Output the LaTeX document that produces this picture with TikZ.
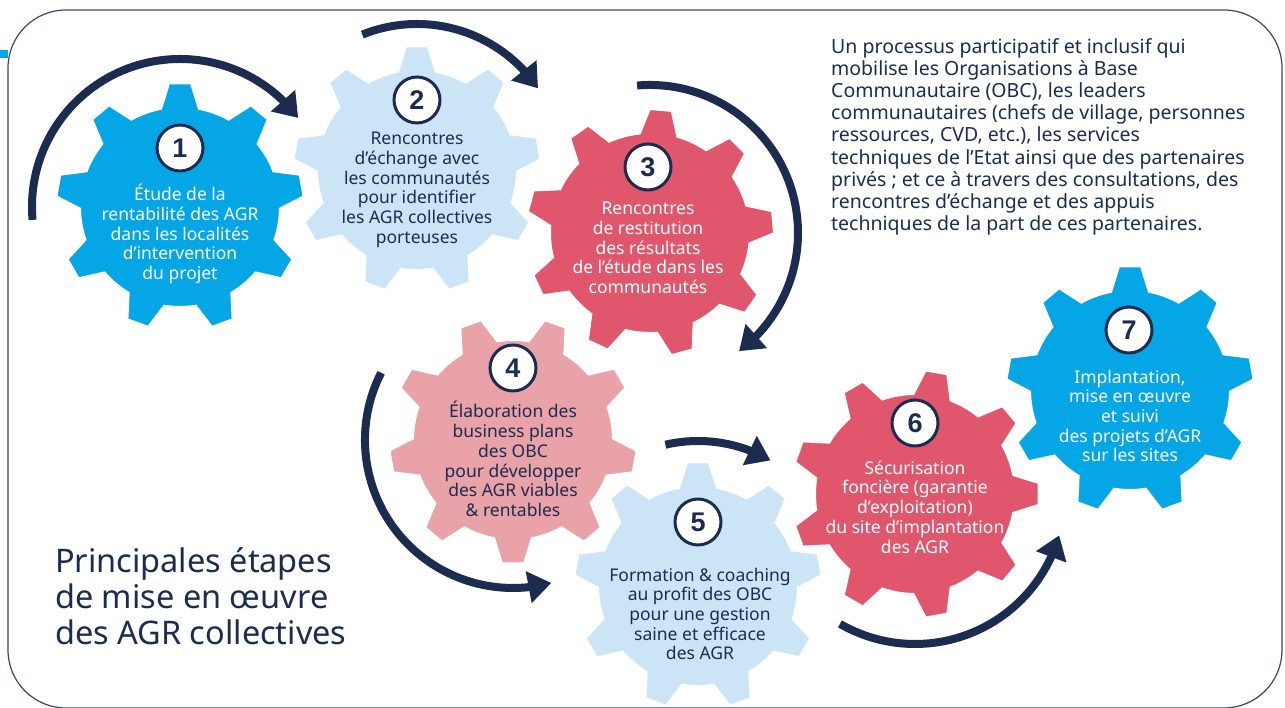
\documentclass[tikz,border=0pt]{standalone}
\usepackage{fontspec}
\setmainfont{Noto Sans}
\newfontfamily\numfont{Liberation Sans}
\usetikzlibrary{arrows.meta,bending}
\definecolor{navy}{HTML}{1C2B50}
\definecolor{bblue}{HTML}{05A6E5}
\definecolor{lblue}{HTML}{CCE5F6}
\definecolor{cred}{HTML}{E0566C}
\definecolor{cpink}{HTML}{E9A2A7}
\definecolor{bordercol}{HTML}{3A4766}
\newcommand\gearshape[3]{% center, rotation, colour
  \filldraw[fill=#3, draw=white, line width=2pt, shift={(#1)}]
    (#2-10.9:100) \foreach \k in {0,...,8}{
      -- (#2+40*\k-5.1:124) -- (#2+40*\k+5.1:124) -- (#2+40*\k+10.9:100)
      arc[start angle=#2+40*\k+10.9, end angle=#2+40*\k+29.1, radius=100]
    } -- cycle;
}
\begin{document}
\begin{tikzpicture}[x=1pt,y=1pt,
  txt/.style={align=center, inner sep=0pt, font=\fontsize{17.5}{19.7}\selectfont},
  num/.style={circle, draw=navy, line width=3pt, fill=white, minimum size=46pt, inner sep=0pt,
    text=navy, font=\numfont\fontsize{27}{27}\selectfont\bfseries},
  arr/.style={draw=navy, line width=8pt, -{Triangle[length=23pt,width=31pt]}}]
\useasboundingbox (0,0) rectangle (1285,708);
\fill[white] (0,0) rectangle (1285,708);
\draw[bordercol, line width=1.2pt, rounded corners=58pt] (8,0) rectangle (1282,698);
\fill[bblue] (0,650) rectangle (8,658);

\coordinate (c1) at (180,501);
\coordinate (c2) at (417,538);
\coordinate (c3) at (650,475);
\coordinate (c4) at (513,268);
\coordinate (c5) at (698,122);
\coordinate (c6) at (915,214);
\coordinate (c7) at (1130,318);

\gearshape{c1}{10}{bblue}
\gearshape{c2}{10}{lblue}
\gearshape{c3}{5}{cred}
\gearshape{c4}{30}{cpink}
\gearshape{c5}{10}{lblue}
\gearshape{c6}{0}{cred}
\gearshape{c7}{10}{bblue}

\coordinate (a1) at ([shift={(185:148)}]c1);
\coordinate (a2) at ([shift={(112:146)}]c2);
\coordinate (a3) at ([shift={(95:148)}]c3);
\coordinate (a4) at ([shift={(153:148)}]c4);
\coordinate (a5) at ([shift={(103:145)}]c5);
\coordinate (a6) at ([shift={(240:150)}]c6);
\draw[arr] (a1) arc[start angle=185, end angle=37, radius=148];
\draw[arr] (a2) arc[start angle=112, end angle=34, radius=146];
\draw[arr] (a3) arc[start angle=95, end angle=-53, radius=148];
\draw[arr] (a4) arc[start angle=153, end angle=285, radius=148];
\draw[arr] (a5) arc[start angle=103, end angle=60, radius=145];
\draw[arr] (a6) arc[start angle=240, end angle=344, radius=150];

\node[num] (n1) at (180,560) {1};
\node[num] (n2) at (417,608) {2};
\node[num] (n3) at (648,541) {3};
\node[num] (n4) at (513,340) {4};
\node[num] (n5) at (698,186) {5};
\node[num] (n6) at (915,285) {6};
\node[num] (n7) at (1129,378) {7};

\node[txt, text=white] (t1) at (180,474) {Étude de la\\rentabilité des AGR\\dans les localités\\d’intervention\\du projet};
\node[txt, text=navy] (t2) at (417,518) {Rencontres\\d’échange avec\\les communautés\\pour identifier\\les AGR collectives\\porteuses};
\node[txt, text=white] (t3) at (648,460) {Rencontres\\de restitution\\des résultats\\de l’étude dans les\\communautés};
\node[txt, text=navy] (t4) at (513,249) {Élaboration des\\business plans\\des OBC\\pour développer\\des AGR viables\\\& rentables};
\node[txt, text=navy] (t5) at (700,94) {Formation \& coaching\\au profit des OBC\\pour une gestion\\saine et efficace\\des AGR};
\node[txt, text=white] (t6) at (915,201) {Sécurisation\\foncière (garantie\\d’exploitation)\\du site d’implantation\\des AGR};
\node[txt, text=white] (t7) at (1130,292) {Implantation,\\mise en œuvre\\et suivi\\des projets d’AGR\\sur les sites};

\node[align=left, anchor=north west, inner sep=0pt, text=navy, font=\fontsize{19.5}{22.2}\selectfont] (desc) at (831,670)
 {Un processus participatif et inclusif qui\\mobilise les Organisations à Base\\Communautaire (OBC), les leaders\\communautaires (chefs de village, personnes\\ressources, CVD, etc.), les services\\techniques de l’Etat ainsi que des partenaires\\privés ; et ce à travers des consultations, des\\rencontres d’échange et des appuis\\techniques de la part de ces partenaires.};

\node[align=left, anchor=north west, inner sep=0pt, text=navy, font=\fontsize{32.5}{36}\selectfont] (title) at (55,161)
 {Principales étapes\\de mise en œuvre\\des AGR collectives};
\end{tikzpicture}
\end{document}
